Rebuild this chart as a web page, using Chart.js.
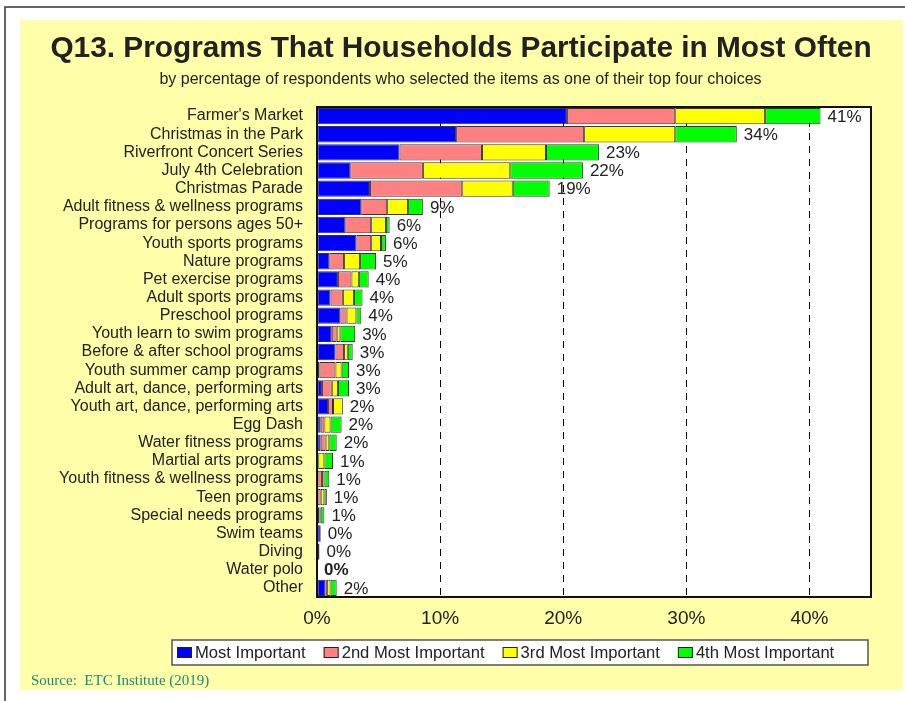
<!DOCTYPE html>
<html>
<head>
<meta charset="utf-8">
<script src="https://cdn.jsdelivr.net/npm/chart.js@4"></script>
<style>
  html, body { margin: 0; padding: 0; background: #fff; }
  canvas { display: block; }
</style>
</head>
<body>
<canvas id="myChart" width="905" height="701"></canvas>
<script>
const programs = [
    "Farmer's Market",
    'Christmas in the Park',
    'Riverfront Concert Series',
    'July 4th Celebration',
    'Christmas Parade',
    'Adult fitness & wellness programs',
    'Programs for persons ages 50+',
    'Youth sports programs',
    'Nature programs',
    'Pet exercise programs',
    'Adult sports programs',
    'Preschool programs',
    'Youth learn to swim programs',
    'Before & after school programs',
    'Youth summer camp programs',
    'Adult art, dance, performing arts',
    'Youth art, dance, performing arts',
    'Egg Dash',
    'Water fitness programs',
    'Martial arts programs',
    'Youth fitness & wellness programs',
    'Teen programs',
    'Special needs programs',
    'Swim teams',
    'Diving',
    'Water polo',
    'Other'
];

// percent of respondents, by rank of choice
const mostImportant = [20.3, 11.3, 6.7, 2.7, 4.3, 3.6, 2.3, 3.2, 1.0, 1.7, 1.1, 1.9, 1.2, 1.5, 0.2, 0.4, 0.9, 0.3, 0.3, 0.0, 0.0, 0.0, 0.2, 0.3, 0.0, 0.0, 0.7];
const secondMost    = [8.8, 10.4, 6.7, 5.9, 7.5, 2.1, 2.1, 1.2, 1.2, 1.1, 1.0, 0.5, 0.4, 0.7, 1.3, 0.8, 0.4, 0.3, 0.4, 0.1, 0.4, 0.3, 0.0, 0.0, 0.0, 0.0, 0.1];
const thirdMost     = [7.3, 7.4, 5.2, 7.1, 4.1, 1.7, 1.2, 0.8, 1.3, 0.6, 0.9, 0.8, 0.3, 0.3, 0.5, 0.5, 0.8, 0.5, 0.3, 0.5, 0.2, 0.3, 0.1, 0.0, 0.0, 0.0, 0.3];
const fourthMost    = [4.5, 5.0, 4.3, 5.9, 3.0, 1.2, 0.3, 0.4, 1.3, 0.8, 0.7, 0.4, 1.2, 0.4, 0.6, 0.9, 0.0, 0.9, 0.6, 0.7, 0.4, 0.2, 0.3, 0.0, 0.2, 0.0, 0.5];

const seriesNames = ['Most Important', '2nd Most Important', '3rd Most Important', '4th Most Important'];
const seriesColors = ['#0000FF', '#FF8080', '#FFFF00', '#00FF00'];
const xTicks = [0, 10, 20, 30, 40];
const boldValueLabels = ['Water polo'];

const titleText = 'Q13. Programs That Households Participate in Most Often';
const subtitleText = 'by percentage of respondents who selected the items as one of their top four choices';
const sourceText = 'Source:  ETC Institute (2019)';

const FONT = '"Liberation Sans", Arial, sans-serif';
const TEXT = '#222';

const totals = programs.map((p, i) =>
    mostImportant[i] + secondMost[i] + thirdMost[i] + fourthMost[i]);

// empty segments are skipped so they leave no outline
const asBars = arr => arr.map(v => (v > 0 ? v : null));

const pagePlugin = {
    id: 'page',
    beforeDraw(chart) {
        const c = chart.ctx;
        const a = chart.chartArea;
        c.save();
        c.fillStyle = '#fff';
        c.fillRect(0, 0, chart.width, chart.height);
        // frame lines on top and left
        c.strokeStyle = '#333';
        c.lineWidth = 1.5;
        c.beginPath();
        c.moveTo(5, chart.height);
        c.lineTo(5, 7);
        c.lineTo(chart.width, 7);
        c.stroke();
        // yellow panel
        c.fillStyle = '#FFFFAA';
        c.fillRect(20, 20, 883, 670);
        // plot background
        c.fillStyle = '#fff';
        c.fillRect(a.left, a.top, a.right - a.left, a.bottom - a.top);

        // headings
        c.fillStyle = TEXT;
        c.textAlign = 'center';
        c.textBaseline = 'middle';
        c.font = 'bold 29.8px ' + FONT;
        c.fillText(titleText, 461, 48.5);
        c.font = '16px ' + FONT;
        c.fillText(subtitleText, 460.5, 80);
        c.restore();
    },
    afterDatasetsDraw(chart) {
        const c = chart.ctx;
        const a = chart.chartArea;
        const x = chart.scales.x;
        const y = chart.scales.y;
        c.save();
        c.strokeStyle = '#111';
        c.lineWidth = 2;
        c.strokeRect(a.left, a.top, a.right - a.left, a.bottom - a.top);

        // total percentage after each bar
        c.fillStyle = TEXT;
        c.textBaseline = 'middle';
        c.textAlign = 'left';
        totals.forEach((t, i) => {
            const bold = boldValueLabels.includes(programs[i]);
            c.font = (bold ? 'bold ' : '') + '17px ' + FONT;
            c.fillText(Math.round(t) + '%', x.getPixelForValue(t) + 7, y.getPixelForValue(i) + 1);
        });
        c.restore();
    },
    afterDraw(chart) {
        const c = chart.ctx;
        c.save();
        // legend box
        c.fillStyle = '#fff';
        c.fillRect(172, 640, 696, 25);
        c.strokeStyle = '#555';
        c.lineWidth = 1.5;
        c.strokeRect(172, 640, 696, 25);

        c.font = '16.6px ' + FONT;
        c.textBaseline = 'middle';
        c.textAlign = 'left';
        let lx = 177;
        chart.data.datasets.forEach(ds => {
            c.fillStyle = ds.backgroundColor;
            c.fillRect(lx, 647, 15, 11);
            c.strokeStyle = '#222';
            c.lineWidth = 1;
            c.strokeRect(lx + 0.5, 647.5, 14, 10);
            c.fillStyle = TEXT;
            c.fillText(ds.label, lx + 18, 653);
            lx += 18 + c.measureText(ds.label).width + 18;
        });

        // source note
        c.font = '15px "Liberation Serif", "Times New Roman", serif';
        c.fillStyle = '#168a80';
        c.textBaseline = 'alphabetic';
        c.fillText(sourceText, 31, 685);
        c.restore();
    }
};

const ctx = document.getElementById('myChart');

new Chart(ctx, {
    type: 'bar',
    data: {
        labels: programs,
        datasets: [mostImportant, secondMost, thirdMost, fourthMost].map((arr, k) => ({
            label: seriesNames[k],
            data: asBars(arr),
            backgroundColor: seriesColors[k],
            borderColor: '#333',
            borderWidth: 1,
            borderSkipped: false,
            barPercentage: 0.9,
            categoryPercentage: 1.0
        }))
    },
    options: {
        indexAxis: 'y',
        responsive: false,
        animation: false,
        events: [],
        layout: {
            padding: { top: 107, left: 20, right: 34, bottom: 0 }
        },
        plugins: {
            legend: { display: false },
            tooltip: { enabled: false }
        },
        scales: {
            x: {
                stacked: true,
                min: 0,
                max: 45,
                afterBuildTicks: s => { s.ticks = xTicks.map(v => ({ value: v })); },
                afterFit: s => { s.height = 104; },
                grid: { color: '#000', lineWidth: 1, drawTicks: false },
                border: { display: false, dash: [7, 6] },
                ticks: {
                    color: TEXT,
                    padding: 10,
                    font: { family: FONT, size: 19 },
                    callback: v => v + '%'
                }
            },
            y: {
                stacked: true,
                afterFit: s => { s.width = 297; },
                grid: { display: false, drawTicks: false },
                border: { display: false },
                ticks: {
                    color: TEXT,
                    padding: 14,
                    autoSkip: false,
                    font: { family: FONT, size: 16 }
                }
            }
        }
    },
    plugins: [pagePlugin]
});
</script>
</body>
</html>
